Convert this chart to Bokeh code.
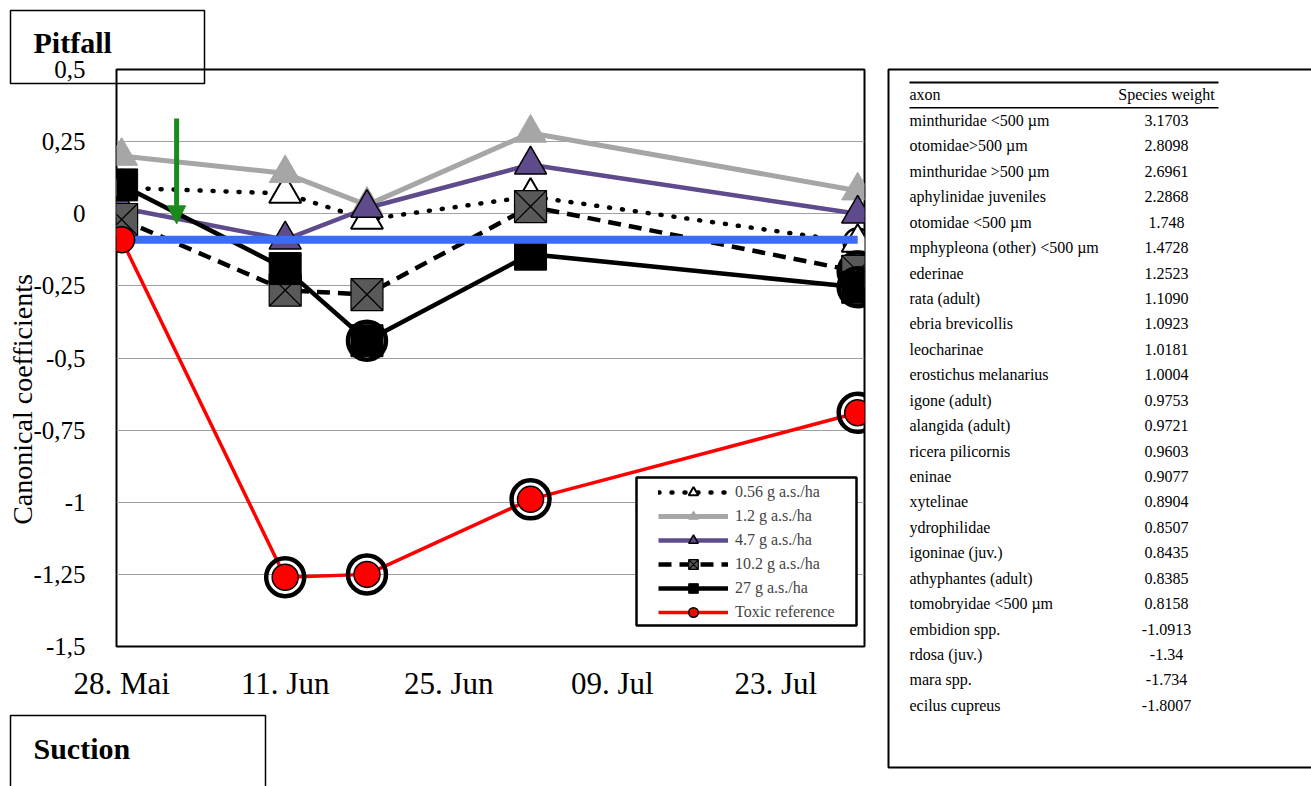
import math
import pandas as pd
from bokeh.plotting import figure
from bokeh.models import (ColumnDataSource, FixedTicker, Range1d, Legend, LegendItem,
                          BoxAnnotation, Arrow, NormalHead, GridBox, Column)
from bokeh.core.properties import value
from bokeh.embed import file_html
from bokeh.resources import INLINE

# ---------------- data ----------------
sample_dates = ["2013-05-28", "2013-06-11", "2013-06-18", "2013-07-02", "2013-07-30"]
x_tick_dates = ["2013-05-28", "2013-06-11", "2013-06-25", "2013-07-09", "2013-07-23"]
x_tick_labels = ["28. Mai", "11. Jun", "25. Jun", "09. Jul", "23. Jul"]
y_ticks = [0.5, 0.25, 0, -0.25, -0.5, -0.75, -1, -1.25, -1.5]
y_tick_labels = ["0,5", "0,25", "0", "-0,25", "-0,5", "-0,75", "-1", "-1,25", "-1,5"]
y_title = "Canonical coefficients"

series_labels = ["0.56 g a.s./ha", "1.2 g a.s./ha", "4.7 g a.s./ha",
                 "10.2 g a.s./ha", "27 g a.s./ha", "Toxic reference"]
coef_0_56 = [0.09, 0.07, -0.02, 0.06, -0.10]
coef_1_2 = [0.20, 0.14, 0.03, 0.28, 0.08]
coef_4_7 = [0.02, -0.09, 0.02, 0.17, 0.00]
coef_10_2 = [-0.02, -0.265, -0.28, 0.025, -0.20]
coef_27 = [0.10, -0.19, -0.44, -0.14, -0.255]
coef_toxic = [-0.09, -1.26, -1.25, -0.99, -0.69]
control_line = [-0.09, -0.09, -0.09, -0.09, -0.09]

# significance rings (1 = ringed point)
sig_0_56 = [0, 0, 0, 0, 1]
sig_10_2 = [0, 0, 0, 0, 1]
sig_27 = [0, 0, 1, 0, 1]
sig_toxic = [0, 1, 1, 1, 1]

arrow_date = "2013-06-01 17:00"
arrow_top = 0.33
arrow_tip = -0.035

panel_titles = ["Pitfall", "Suction"]
table_header = ["axon", "Species weight"]
taxa = ["minthuridae <500 µm", "otomidae>500 µm", "minthuridae >500 µm",
        "aphylinidae juveniles", "otomidae <500 µm", "mphypleona (other) <500 µm",
        "ederinae", "rata (adult)", "ebria brevicollis", "leocharinae",
        "erostichus melanarius", "igone (adult)", "alangida (adult)",
        "ricera pilicornis", "eninae", "xytelinae", "ydrophilidae",
        "igoninae (juv.)", "athyphantes (adult)", "tomobryidae <500 µm",
        "embidion spp.", "rdosa (juv.)", "mara spp.", "ecilus cupreus"]
weights = ["3.1703", "2.8098", "2.6961", "2.2868", "1.748", "1.4728", "1.2523",
           "1.1090", "1.0923", "1.0181", "1.0004", "0.9753", "0.9721", "0.9603",
           "0.9077", "0.8904", "0.8507", "0.8435", "0.8385", "0.8158", "-1.0913",
           "-1.34", "-1.734", "-1.8007"]


def ms(s):
    return pd.Timestamp(s).value / 1e6


SERIF = "Liberation Serif"
W, H = 1311, 786

# ---------------- background page (boxes, table, titles) ----------------
bg = figure(width=W, height=H, x_range=Range1d(0, W), y_range=Range1d(H, 0),
            x_axis_location=None, y_axis_location=None,
            output_backend="svg", toolbar_location=None,
            min_border=0, min_border_left=0, min_border_right=0,
            min_border_top=0, min_border_bottom=0)
bg.grid.visible = False
bg.outline_line_color = None
bg.background_fill_color = "white"
bg.border_fill_color = "white"

# panel title boxes
bg.quad(left=[10, 10], right=[204, 265], top=[10, 715], bottom=[83, 800],
        fill_color=None, line_color="black", line_width=1.5)
bg.text(x=[33, 33], y=[42, 748], text=panel_titles, text_font=value(SERIF),
        text_font_size="30px", text_font_style="bold", text_baseline="middle",
        text_color="black")

# y axis title
bg.text(x=[22], y=[399], text=[y_title], angle=math.pi / 2, text_font=value(SERIF),
        text_font_size="28px", text_align="center", text_baseline="middle",
        text_color="black")

# species weight table
bg.quad(left=[888], right=[1330], top=[69], bottom=[767], fill_color=None,
        line_color="black", line_width=2)
bg.quad(left=[909, 909], right=[1218, 1218], top=[81, 106.5], bottom=[83, 108],
        fill_color="black", line_color=None)
row_y = [120 + i * 25.43 for i in range(len(taxa))]
bg.text(x=[909], y=[94], text=[table_header[0]], text_font=value(SERIF),
        text_font_size="16px", text_baseline="middle", text_color="black")
bg.text(x=[1166], y=[94], text=[table_header[1]], text_font=value(SERIF),
        text_font_size="16px", text_align="center", text_baseline="middle",
        text_color="black")
bg.text(x=[909] * len(taxa), y=row_y, text=taxa, text_font=value(SERIF),
        text_font_size="16px", text_baseline="middle", text_color="black")
bg.text(x=[1166] * len(weights), y=row_y, text=weights, text_font=value(SERIF),
        text_font_size="16px", text_align="center", text_baseline="middle",
        text_color="black")

# ---------------- chart ----------------
x_vals = [ms(d) for d in sample_dates]

p = figure(width=W, height=H, x_axis_type="datetime",
           x_range=Range1d(ms("2013-05-27 13:30"), ms("2013-07-30 14:00")),
           y_range=Range1d(-1.5, 0.5),
           output_backend="svg", toolbar_location=None,
           min_border_left=116, min_border_right=W - 864,
           min_border_top=69, min_border_bottom=H - 646)
p.background_fill_alpha = 0
p.border_fill_alpha = 0
p.outline_line_color = "black"
p.outline_line_width = 2

p.xaxis.ticker = FixedTicker(ticks=[ms(d) for d in x_tick_dates])
p.xaxis.major_label_overrides = {ms(d): lab for d, lab in zip(x_tick_dates, x_tick_labels)}
p.xaxis.major_label_text_font = SERIF
p.xaxis.major_label_text_font_size = "31px"
p.xaxis.major_label_standoff = 13
p.yaxis.ticker = FixedTicker(ticks=y_ticks)
p.yaxis.major_label_overrides = {t: lab for t, lab in zip(y_ticks, y_tick_labels)}
p.yaxis.major_label_text_font = SERIF
p.yaxis.major_label_text_font_size = "25px"
p.yaxis.major_label_standoff = 25
for ax in (p.xaxis, p.yaxis):
    ax.axis_line_color = None
    ax.major_tick_line_color = None
    ax.minor_tick_line_color = None
    ax.major_label_text_color = "black"
p.xgrid.visible = False
p.ygrid.ticker = FixedTicker(ticks=y_ticks)
p.ygrid.grid_line_color = "#a0a0a0"
p.ygrid.grid_line_width = 1.2


def ring_src(vals, flags):
    xs = [x for x, f in zip(x_vals, flags) if f]
    ys = [v for v, f in zip(vals, flags) if f]
    return ColumnDataSource(dict(x=xs, y=ys))


def draw_rings(vals, flags, size=38, width=4.5):
    p.scatter("x", "y", source=ring_src(vals, flags), marker="circle", size=size,
              fill_color=None, line_color="black", line_width=width)


items = []

# 0.56 g
src = ColumnDataSource(dict(x=x_vals, y=coef_0_56))
l = p.line("x", "y", source=src, line_color="black", line_width=4.5,
           line_dash="1 12", line_cap="round")
draw_rings(coef_0_56, sig_0_56, size=28, width=2.5)
m = p.scatter("x", "y", source=src, marker="triangle", size=32,
              fill_color="white", line_color="black", line_width=2)
items.append(LegendItem(label=series_labels[0], renderers=[l, m]))

# 1.2 g
src = ColumnDataSource(dict(x=x_vals, y=coef_1_2))
l = p.line("x", "y", source=src, line_color="#a6a6a6", line_width=5)
m = p.scatter("x", "y", source=src, marker="triangle", size=32,
              fill_color="#a6a6a6", line_color="#a6a6a6", line_width=1)
items.append(LegendItem(label=series_labels[1], renderers=[l, m]))

# 4.7 g
src = ColumnDataSource(dict(x=x_vals, y=coef_4_7))
l = p.line("x", "y", source=src, line_color="#5f4b8b", line_width=4.5)
m = p.scatter("x", "y", source=src, marker="triangle", size=32,
              fill_color="#5f4b8b", line_color="black", line_width=1.5)
items.append(LegendItem(label=series_labels[2], renderers=[l, m]))

# 10.2 g
src = ColumnDataSource(dict(x=x_vals, y=coef_10_2))
l = p.line("x", "y", source=src, line_color="black", line_width=4.5,
           line_dash="13 8")
draw_rings(coef_10_2, sig_10_2)
m = p.scatter("x", "y", source=src, marker="square_x", size=32,
              fill_color="#595959", line_color="black", line_width=1.2)
items.append(LegendItem(label=series_labels[3], renderers=[l, m]))

# 27 g
src = ColumnDataSource(dict(x=x_vals, y=coef_27))
l = p.line("x", "y", source=src, line_color="black", line_width=4.5)
draw_rings(coef_27, sig_27)
m = p.scatter("x", "y", source=src, marker="square", size=32,
              fill_color="black", line_color="black", line_width=1)
items.append(LegendItem(label=series_labels[4], renderers=[l, m]))

# control baseline (blue)
p.line(x_vals, control_line, line_color="#3a6cf4", line_width=8)

# toxic reference
src = ColumnDataSource(dict(x=x_vals, y=coef_toxic))
l = p.line("x", "y", source=src, line_color="#ff0000", line_width=3.5)
draw_rings(coef_toxic, sig_toxic)
m = p.scatter("x", "y", source=src, marker="circle", size=26,
              fill_color="#ff0000", line_color="black", line_width=1.5)
items.append(LegendItem(label=series_labels[5], renderers=[l, m]))

# green arrow
p.add_layout(Arrow(x_start=ms(arrow_date), y_start=arrow_top,
                   x_end=ms(arrow_date), y_end=arrow_tip,
                   line_color="#1a8a1a", line_width=5,
                   end=NormalHead(size=18, fill_color="#1a8a1a", line_color="#1a8a1a")))

# legend box + legend
p.add_layout(BoxAnnotation(left=636, right=856, top=477, bottom=625,
                           left_units="canvas", right_units="canvas",
                           top_units="canvas", bottom_units="canvas",
                           fill_color="white", fill_alpha=1,
                           line_color="black", line_width=2.5, line_alpha=1))
legend = Legend(items=items, location=(542, 22), padding=0, spacing=0, margin=0,
                glyph_width=70, glyph_height=24, label_height=24, label_standoff=7,
                border_line_alpha=0, background_fill_alpha=0,
                label_text_font=SERIF, label_text_font_size="16px")
p.add_layout(legend)

layout = GridBox(children=[(Column(children=[bg]), 0, 0),
                           (Column(children=[p]), 0, 0)])

open("out.html", "w").write(file_html(layout, INLINE))
